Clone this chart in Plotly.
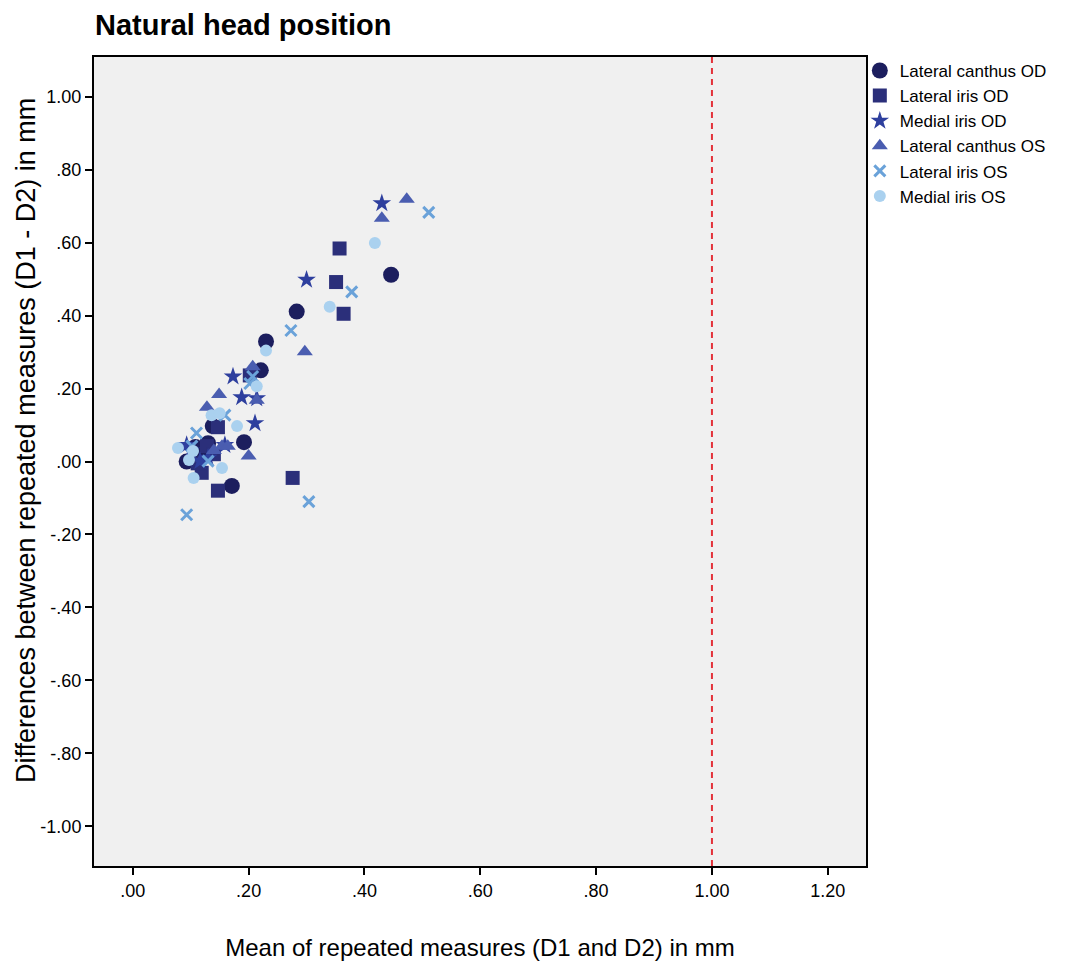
import plotly.graph_objects as go

# ---- data ----
lc_od_x = [0.446, 0.283, 0.230, 0.221, 0.192, 0.171, 0.138, 0.130, 0.093, 0.118, 0.108]
lc_od_y = [0.512, 0.411, 0.329, 0.250, 0.053, -0.067, 0.097, 0.050, 0.000, 0.020, 0.040]

li_od_x = [0.357, 0.351, 0.364, 0.276, 0.147, 0.202, 0.147, 0.119, 0.128, 0.112, 0.140]
li_od_y = [0.584, 0.492, 0.405, -0.045, -0.080, 0.236, 0.094, -0.031, 0.042, -0.005, 0.020]

mi_od_x = [0.430, 0.300, 0.173, 0.188, 0.214, 0.211, 0.093, 0.116, 0.159, 0.100, 0.130]
mi_od_y = [0.708, 0.498, 0.233, 0.176, 0.173, 0.105, 0.045, 0.001, 0.045, 0.030, 0.010]

lc_os_x = [0.473, 0.430, 0.297, 0.207, 0.214, 0.149, 0.128, 0.200, 0.154, 0.164, 0.140]
lc_os_y = [0.719, 0.667, 0.301, 0.260, 0.168, 0.184, 0.149, 0.015, 0.042, 0.042, 0.030]

li_os_x = [0.511, 0.378, 0.273, 0.304, 0.093, 0.207, 0.202, 0.159, 0.110, 0.102, 0.130]
li_os_y = [0.683, 0.465, 0.359, -0.110, -0.146, 0.233, 0.214, 0.127, 0.078, 0.042, 0.001]

mi_os_x = [0.418, 0.340, 0.230, 0.214, 0.136, 0.150, 0.180, 0.078, 0.104, 0.097, 0.154, 0.105]
mi_os_y = [0.599, 0.424, 0.304, 0.206, 0.127, 0.132, 0.097, 0.037, 0.029, 0.004, -0.018, -0.045]

x_tickvals = [0.0, 0.2, 0.4, 0.6, 0.8, 1.0, 1.2]
x_ticktext = [".00", ".20", ".40", ".60", ".80", "1.00", "1.20"]
y_tickvals = [1.0, 0.8, 0.6, 0.4, 0.2, 0.0, -0.2, -0.4, -0.6, -0.8, -1.0]
y_ticktext = ["1.00", ".80", ".60", ".40", ".20", ".00", "-.20", "-.40", "-.60", "-.80", "-1.00"]

reference_x = 1.0

FONT = "Liberation Sans, Arial, sans-serif"

series = [
    ("Lateral canthus OD", lc_od_x, lc_od_y, dict(symbol="circle", size=16, color="#1c1e5e")),
    ("Lateral iris OD", li_od_x, li_od_y, dict(symbol="square", size=14, color="#2b2f7a")),
    ("Medial iris OD", mi_od_x, mi_od_y, dict(symbol="star", size=14, color="#2e3f9e")),
    ("Lateral canthus OS", lc_os_x, lc_os_y, dict(symbol="triangle-up", size=14, color="#4a5db0")),
    ("Lateral iris OS", li_os_x, li_os_y, dict(symbol="x-thin", size=11, color="#6aa2d9",
                                               line=dict(width=3, color="#6aa2d9"))),
    ("Medial iris OS", mi_os_x, mi_os_y, dict(symbol="circle", size=12, color="#aad1ef")),
]

fig = go.Figure()
for name, xs, ys, mk in series:
    m = dict(mk)
    if "line" not in m:
        m["line"] = dict(width=0)
    fig.add_trace(go.Scatter(x=xs, y=ys, mode="markers", name=name, marker=m))

fig.add_vline(x=reference_x, line=dict(color="#e3323a", width=2, dash="6px,5px"))

axis_common = dict(
    showgrid=False, zeroline=False, showline=True, linecolor="black", linewidth=2,
    mirror=True, ticks="outside", ticklen=7, tickwidth=2, tickcolor="black",
    tickfont=dict(family=FONT, size=18, color="black"),
)

fig.update_xaxes(range=[-0.067, 1.266], tickvals=x_tickvals, ticktext=x_ticktext,
                 title=dict(text="Mean of repeated measures (D1 and D2) in mm",
                            font=dict(family=FONT, size=24, color="black"), standoff=40),
                 **axis_common)
fig.update_yaxes(range=[-1.109, 1.109], tickvals=y_tickvals, ticktext=y_ticktext,
                 **axis_common)

# y-axis title placed as rotated text (centred slightly above plot middle, as in reference)
fig.add_annotation(text="Differences between repeated measures (D1 - D2) in mm",
                   textangle=-90, xref="paper", yref="paper",
                   x=(26 - 94) / 772, y=(870 - 443) / 813,
                   xanchor="center", yanchor="middle", showarrow=False,
                   font=dict(family=FONT, size=27, color="black"))

fig.update_layout(
    width=1071, height=961,
    margin=dict(l=86, r=213, t=49, b=99),
    paper_bgcolor="white", plot_bgcolor="#f0f0f0",
    font=dict(family=FONT, color="black"),
    title=dict(text="<b>Natural head position</b>", x=87 / 1071, xanchor="left",
               xref="container", y=1 - 17 / 961, yanchor="middle", yref="container",
               font=dict(family=FONT, size=29, color="black")),
    legend=dict(x=0.992, y=1.005, xanchor="left", yanchor="top", bgcolor="rgba(0,0,0,0)",
                font=dict(family=FONT, size=17, color="black"), tracegroupgap=0,
                itemwidth=30),
    showlegend=True,
)

fig.write_html("out.html")
